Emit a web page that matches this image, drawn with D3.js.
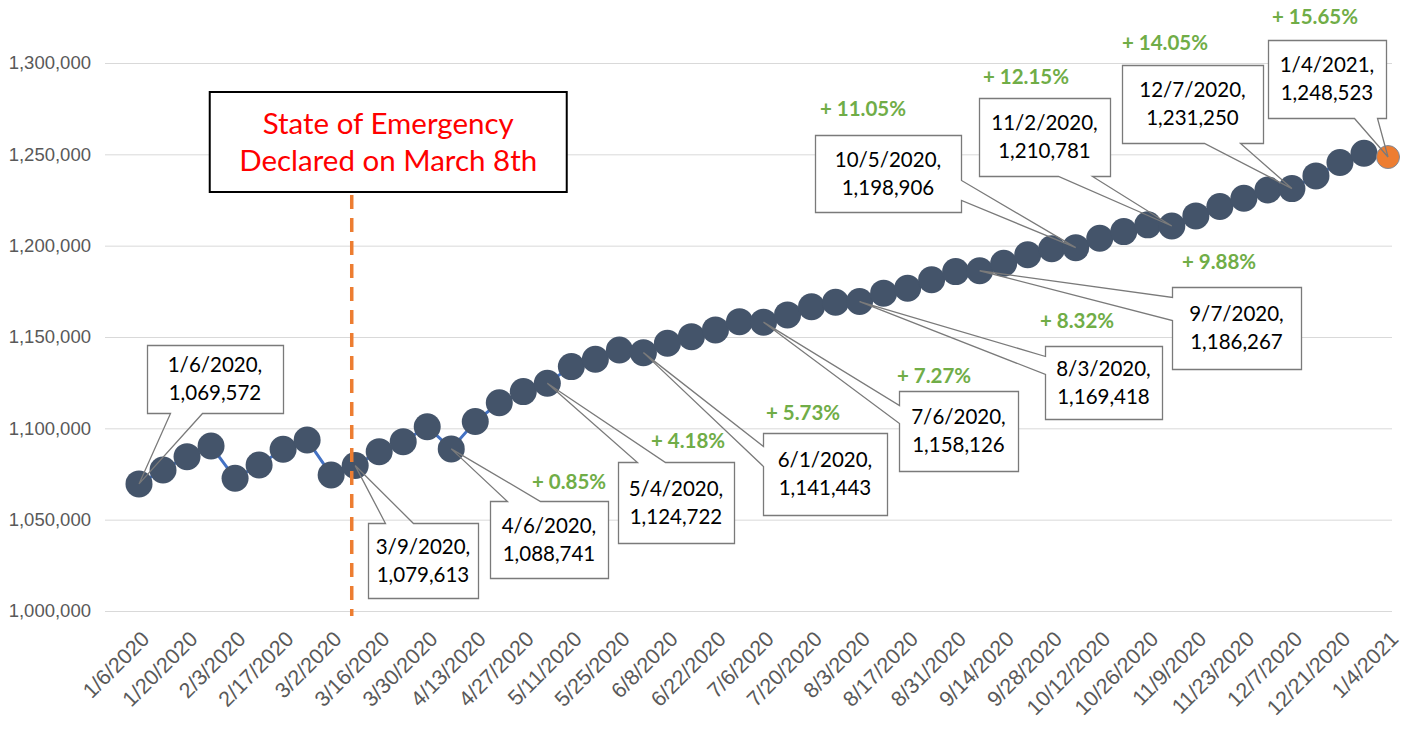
<!DOCTYPE html>
<html>
<head>
<meta charset="utf-8">
<script src="https://cdn.jsdelivr.net/npm/d3@7"></script>
<style>
  body { margin: 0; background: #fff; }
  svg { display: block; font-family: Lato, "Open Sans", sans-serif; }
  .tick text { fill: #595959; }
  .grid line { stroke: #d9d9d9; }
</style>
</head>
<body>
<div id="chart"></div>
<script>
// weekly counts, Jan 6 2020 - Jan 4 2021
var weeks = [
  "2020-01-06","2020-01-13","2020-01-20","2020-01-27","2020-02-03","2020-02-10","2020-02-17","2020-02-24",
  "2020-03-02","2020-03-09","2020-03-16","2020-03-23","2020-03-30","2020-04-06","2020-04-13","2020-04-20",
  "2020-04-27","2020-05-04","2020-05-11","2020-05-18","2020-05-25","2020-06-01","2020-06-08","2020-06-15",
  "2020-06-22","2020-06-29","2020-07-06","2020-07-13","2020-07-20","2020-07-27","2020-08-03","2020-08-10",
  "2020-08-17","2020-08-24","2020-08-31","2020-09-07","2020-09-14","2020-09-21","2020-09-28","2020-10-05",
  "2020-10-12","2020-10-19","2020-10-26","2020-11-02","2020-11-09","2020-11-16","2020-11-23","2020-11-30",
  "2020-12-07","2020-12-14","2020-12-21","2020-12-28","2021-01-04"
];
var counts = [
  1069572, 1077200, 1084500, 1090350, 1072660, 1079950, 1088540, 1093640,
  1074470, 1079613, 1087230, 1092700, 1100900, 1088741, 1103700, 1114000,
  1120100, 1124722, 1133800, 1137800, 1142900, 1141443, 1146600, 1150200,
  1153900, 1158400, 1158126, 1162100, 1166600, 1169000, 1169418, 1174000,
  1176700, 1181300, 1185800, 1186267, 1190400, 1195000, 1198300, 1198906,
  1204100, 1207700, 1211400, 1210781, 1216300, 1221400, 1226000, 1230500,
  1231250, 1238200, 1245500, 1250600, 1248523
];
var yTicks = [1000000, 1050000, 1100000, 1150000, 1200000, 1250000, 1300000];
var labelled = [0, 9, 13, 17, 21, 26, 30, 35, 39, 43, 48, 52];
var baseIdx = 9;          // growth is measured from 3/9/2020
var emergencyDate = "2020-03-08";
var emergencyText = ["State of Emergency", "Declared on March 8th"];

// callout placement: box offset from its point, size, side the pointer leaves from,
// pointer base offsets along that side, percent text offset from box corner
var calloutLayout = [
  {dx: 8,    dy: -139, w: 136, h: 68, side: "bottom", a: 23, b: 55},
  {dx: 13,   dy: 57,   w: 110, h: 75, side: "top",    a: 17, b: 45},
  {dx: 39,   dy: 52,   w: 118, h: 77, side: "top",    a: 17, b: 50,  px: 79, py: -19},
  {dx: 71,   dy: 79,   w: 116, h: 81, side: "top",    a: 19, b: 47,  px: 70, py: -21},
  {dx: 120,  dy: 80,   w: 124, h: 82, side: "left",   a: 13, b: 33,  px: 40, py: -20},
  {dx: 135,  dy: 69,   w: 119, h: 80, side: "left",   a: 14, b: 32,  px: 35, py: -15},
  {dx: 185,  dy: 44,   w: 117, h: 73, side: "left",   a: 10, b: 28,  px: 32, py: -25},
  {dx: 192,  dy: 16,   w: 129, h: 82, side: "left",   a: 10, b: 33,  px: 47, py: -25},
  {dx: -261, dy: -113, w: 146, h: 77, side: "right",  a: 45, b: 65,  px: 48, py: -26},
  {dx: -193, dy: -128, w: 131, h: 78, side: "bottom", a: 79, b: 113, px: 47, py: -21},
  {dx: -170, dy: -124, w: 141, h: 78, side: "bottom", a: 82, b: 118, px: 43, py: -22},
  {dx: -120, dy: -117, w: 118, h: 78, side: "bottom", a: 86, b: 109, px: 47, py: -23}
];

var width = 1410, height = 736;
var parse = d3.timeParse("%Y-%m-%d");
var fmtDate = d3.timeFormat("%-m/%-d/%Y");
var fmtNum = d3.format(",");

var data = weeks.map(function(w, i) { return {date: parse(w), value: counts[i], i: i}; });

var svg = d3.select("#chart").append("svg")
    .attr("width", width)
    .attr("height", height);

var x = d3.scaleTime()
    .domain([data[0].date, data[data.length - 1].date])
    .range([139, 1388]);
var y = d3.scaleLinear()
    .domain([1000000, 1300000])
    .range([611, 63]);

var gridLeft = 105, gridRight = 1392;

// y axis + gridlines
var yAxis = svg.append("g")
    .attr("class", "grid")
    .attr("transform", "translate(" + gridLeft + ",0)")
    .call(d3.axisLeft(y).tickValues(yTicks).tickFormat(fmtNum)
      .tickSize(-(gridRight - gridLeft)).tickPadding(14));
yAxis.select(".domain").remove();
yAxis.selectAll("text").style("font-size", "18.5px");

// x axis, every second week
var xAxis = svg.append("g")
    .attr("transform", "translate(0," + y(1000000) + ")")
    .call(d3.axisBottom(x)
      .tickValues(data.filter(function(d) { return d.i % 2 == 0; }).map(function(d) { return d.date; }))
      .tickFormat(fmtDate).tickSize(0));
xAxis.select(".domain").remove();
xAxis.selectAll("text")
    .style("font-size", "21.5px")
    .attr("text-anchor", "end")
    .attr("y", 0).attr("dy", "0.35em")
    .attr("transform", "translate(6,24) rotate(-45)");

// series
var line = d3.line()
    .x(function(d) { return x(d.date); })
    .y(function(d) { return y(d.value); });

svg.append("path")
    .datum(data)
    .attr("d", line)
    .attr("fill", "none")
    .attr("stroke", "#4472c4")
    .attr("stroke-width", 3);

svg.append("g").selectAll("circle")
    .data(data)
  .enter().append("circle")
    .attr("cx", function(d) { return x(d.date); })
    .attr("cy", function(d) { return y(d.value); })
    .attr("r", function(d) { return d.i == data.length - 1 ? 11.5 : 13.5; })
    .attr("fill", function(d) { return d.i == data.length - 1 ? "#ed7d31" : "#44546a"; })
    .attr("stroke", function(d) { return d.i == data.length - 1 ? "#7f8a9a" : "none"; })
    .attr("stroke-width", 1);

// emergency marker
var ex = x(parse(emergencyDate));
svg.append("line")
    .attr("x1", ex).attr("x2", ex)
    .attr("y1", 195).attr("y2", 616)
    .attr("stroke", "#ed7d31")
    .attr("stroke-width", 3.5)
    .attr("stroke-dasharray", "14,9");

// callouts
function calloutPath(bx, by, c, tx, ty) {
  var w = c.w, h = c.h, a = c.a, b = c.b;
  var p;
  if (c.side == "bottom") {
    p = [[bx, by], [bx + w, by], [bx + w, by + h], [bx + b, by + h], [tx, ty], [bx + a, by + h], [bx, by + h]];
  } else if (c.side == "top") {
    p = [[bx, by], [bx + a, by], [tx, ty], [bx + b, by], [bx + w, by], [bx + w, by + h], [bx, by + h]];
  } else if (c.side == "left") {
    p = [[bx, by], [bx + w, by], [bx + w, by + h], [bx, by + h], [bx, by + b], [tx, ty], [bx, by + a]];
  } else {
    p = [[bx, by], [bx + w, by], [bx + w, by + a], [tx, ty], [bx + w, by + b], [bx + w, by + h], [bx, by + h]];
  }
  return "M" + p.map(function(q) { return q[0] + "," + q[1]; }).join("L") + "Z";
}

var base = counts[baseIdx];
var callouts = svg.append("g");
labelled.forEach(function(idx, k) {
  var d = data[idx], c = calloutLayout[k];
  var tx = x(d.date), ty = y(d.value);
  var bx = Math.round(tx + c.dx), by = Math.round(ty + c.dy);
  var g = callouts.append("g");
  g.append("rect")
      .attr("x", bx).attr("y", by)
      .attr("width", c.w).attr("height", c.h)
      .attr("fill", "#fff");
  g.append("path")
      .attr("d", calloutPath(bx + 0.5, by + 0.5, c, tx, ty))
      .attr("fill", "none")
      .attr("stroke", "#7a7a7a")
      .attr("stroke-width", 1.3);
  var t = g.append("text")
      .attr("text-anchor", "middle")
      .style("font-size", "20.5px")
      .attr("fill", "#000");
  t.append("tspan").attr("x", bx + c.w / 2).attr("y", by + c.h / 2 - 14).attr("dy", "0.35em")
      .text(fmtDate(d.date) + ",");
  t.append("tspan").attr("x", bx + c.w / 2).attr("y", by + c.h / 2 + 14).attr("dy", "0.35em")
      .text(fmtNum(d.value));
  if (c.px !== undefined) {
    var pct = (d.value / base - 1) * 100;
    g.append("text")
        .attr("x", bx + c.px).attr("y", by + c.py)
        .attr("dy", "0.35em")
        .attr("text-anchor", "middle")
        .style("font-size", "20.5px")
        .style("font-weight", "bold")
        .attr("fill", "#70ad47")
        .text("+ " + pct.toFixed(2) + "%");
  }
});

// emergency text box
var eb = svg.append("g");
eb.append("rect")
    .attr("x", ex - 142).attr("y", 92)
    .attr("width", 357).attr("height", 100)
    .attr("fill", "#fff")
    .attr("stroke", "#000")
    .attr("stroke-width", 2);
eb.selectAll("text")
    .data(emergencyText)
  .enter().append("text")
    .attr("x", ex - 142 + 357 / 2)
    .attr("y", function(d, i) { return 124 + i * 37; })
    .attr("dy", "0.35em")
    .attr("text-anchor", "middle")
    .style("font-size", "29.5px")
    .attr("fill", "#ff0000")
    .text(function(d) { return d; });
</script>
</body>
</html>
